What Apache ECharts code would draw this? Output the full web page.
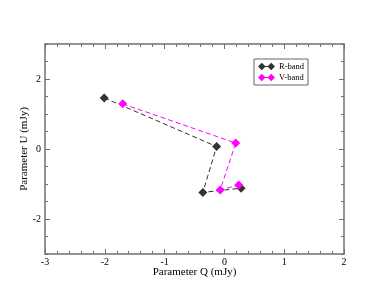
<!DOCTYPE html>
<html><head><meta charset="utf-8">
<script src="https://cdn.jsdelivr.net/npm/echarts@6/dist/echarts.min.js"></script>
<style>html,body{margin:0;padding:0;background:#fff}#c{width:388px;height:300px}</style>
</head><body><div id="c"></div>
<script>
const seriesNames = ['R-band', 'V-band'];
const rQ = [-2.01, -0.13, -0.36, 0.28];
const rU = [1.46, 0.07, -1.24, -1.12];
const vQ = [-1.70, 0.19, -0.07, 0.24];
const vU = [1.29, 0.17, -1.17, -1.03];
const xTickLabels = [-3, -2, -1, 0, 1, 2];
const yTickLabels = [-2, 0, 2];

const FONT = '"Liberation Serif", "DejaVu Serif", serif';
const AX = '#707070';
const icon = 'path://M4,0 L8,4 L4,8 L0,4 Z M14,0 L18,4 L14,8 L10,4 Z M7,3.4 L11,3.4 L11,4.6 L7,4.6 Z';

function xAxis(pos, labels) {
  return {
    type: 'value', position: pos, min: -3, max: 2, interval: 1,
    axisLine: { show: true, onZero: false, lineStyle: { color: AX, width: 1.5 } },
    axisTick: { show: true, inside: true, length: 5, lineStyle: { color: AX } },
    minorTick: { show: true, splitNumber: 5, length: 3, lineStyle: { color: AX } },
    splitLine: { show: false }, minorSplitLine: { show: false },
    axisLabel: { show: labels, margin: 3, fontFamily: FONT, fontSize: 10, color: '#000' },
    name: labels ? 'Parameter Q (mJy)' : '', nameLocation: 'middle', nameGap: 13,
    nameMoveOverlap: false,
    nameTextStyle: { fontFamily: FONT, fontSize: 11, color: '#000' }
  };
}
function yAxisMinor(pos, labels) {
  return {
    type: 'value', position: pos, min: -3, max: 3, interval: 0.5,
    axisLine: { show: true, onZero: false, lineStyle: { color: AX, width: 1.5 } },
    axisTick: { show: true, inside: true, length: 3, lineStyle: { color: AX } },
    splitLine: { show: false },
    axisLabel: { show: labels, customValues: yTickLabels, margin: 4, fontFamily: FONT, fontSize: 10, color: '#000' },
    name: labels ? 'Parameter U (mJy)' : '', nameLocation: 'middle', nameGap: 15,
    nameMoveOverlap: false,
    nameTextStyle: { fontFamily: FONT, fontSize: 11, color: '#000' }
  };
}
function yAxisMajor(pos) {
  return {
    type: 'value', position: pos, min: -3, max: 3, interval: 0.5,
    axisLine: { show: false, onZero: false },
    axisTick: { show: true, inside: true, length: 5, customValues: yTickLabels, lineStyle: { color: AX } },
    splitLine: { show: false },
    axisLabel: { show: false }
  };
}

const chart = echarts.init(document.getElementById('c'));
chart.setOption({
  animation: false,
  backgroundColor: '#fff',
  grid: { left: 45, right: 44, top: 44, bottom: 46 },
  xAxis: [xAxis('bottom', true), xAxis('top', false)],
  yAxis: [yAxisMinor('left', true), yAxisMajor('left'), yAxisMinor('right', false), yAxisMajor('right')],
  legend: {
    left: 254, top: 59, orient: 'vertical', itemGap: 2, itemWidth: 17, itemHeight: 8,
    padding: [3, 4, 3, 4],
    borderColor: '#666', borderWidth: 1, backgroundColor: '#fff',
    textStyle: { fontFamily: FONT, fontSize: 8.5, color: '#000', padding: [0, 0, 0, -1] },
    data: [{ name: seriesNames[0], icon: icon }, { name: seriesNames[1], icon: icon }]
  },
  series: [
    {
      name: seriesNames[0], type: 'line', xAxisIndex: 0, yAxisIndex: 0,
      data: rQ.map((q, i) => [q, rU[i]]),
      symbol: 'diamond', symbolSize: 9,
      itemStyle: { color: '#333333' },
      lineStyle: { color: '#333333', width: 1, type: [5, 3] }
    },
    {
      name: seriesNames[1], type: 'line', xAxisIndex: 0, yAxisIndex: 0,
      data: vQ.map((q, i) => [q, vU[i]]),
      symbol: 'diamond', symbolSize: 9,
      itemStyle: { color: '#ff00ff' },
      lineStyle: { color: '#ff00ff', width: 1, type: [5, 3] }
    }
  ]
});
</script></body></html>
